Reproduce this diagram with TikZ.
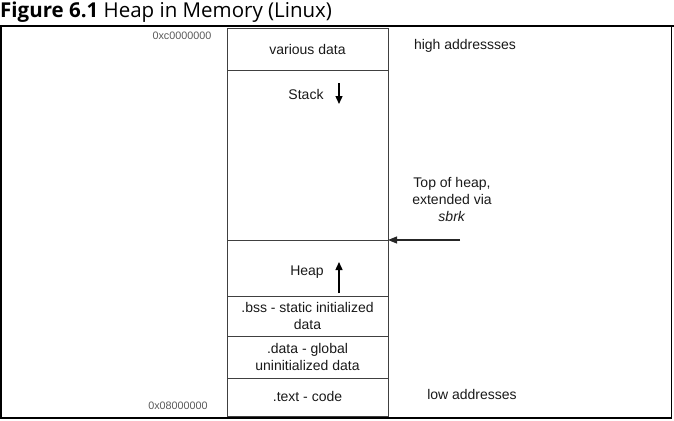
\documentclass[tikz,border=0pt]{standalone}
\usepackage{fontspec}
\setmainfont{Liberation Sans}
\newfontfamily\titlefont{Open Sans}
\usetikzlibrary{arrows.meta}
\begin{document}
\begin{tikzpicture}[x=1pt,y=-1pt,
  region/.style={draw=black!75, line width=0.9pt, minimum width=161pt, inner sep=0pt, outer sep=0pt, anchor=north west},
  lbl/.style={font=\fontsize{14}{16.5}\selectfont, text=black!90, align=center, inner sep=0pt},
  hexlbl/.style={font=\fontsize{10.8}{12}\selectfont, text=black!65, inner sep=0pt},
  growarrow/.style={line width=1.4pt, -{Triangle[length=8pt,width=7pt]}},
  ptr/.style={line width=1.1pt, black!85, -{Triangle[length=9pt,width=7pt]}}]
\useasboundingbox (0,0) rectangle (674,420);
% title
\node[anchor=base west, inner sep=0pt, font=\titlefont\fontsize{20.5}{23}\selectfont] (title) at (0,17.5) {\textbf{Figure 6.1} Heap in Memory (Linux)};
% frame
\draw[line width=1.8pt] (0,26) -- (674,26);
\draw[line width=1.6pt] (1,26) rectangle (671.5,418);
% column regions
\node[region, minimum height=42pt] (various) at (227,28) {};
\node[region, minimum height=170pt] (stack) at (227,70) {};
\node[region, minimum height=56pt] (heap) at (227,240) {};
\node[region, minimum height=40pt] (bss) at (227,296) {};
\node[region, minimum height=42pt] (data) at (227,336) {};
\node[region, minimum height=38pt] (text) at (227,378) {};
% labels
\node[lbl] (variousl) at (various.center) {various data};
\node[lbl] (stackl) at (306,94) {Stack};
\node[lbl] (heapl) at (307,272) {Heap};
\node[lbl] (bssl) at (bss.center) {.bss - static initialized\\data};
\node[lbl] (datal) at (data.center) {.data - global\\uninitialized data};
\node[lbl] (textl) at ([yshift=1pt]text.center) {.text - code};
\node[lbl] (high) at (465,46) {high addressses};
\node[lbl] (low) at (472,394) {low addresses};
\node[lbl, font=\fontsize{14}{17}\selectfont] (top) at (452,199) {Top of heap,\\extended via\\\textit{sbrk}};
\node[hexlbl] (hexhi) at (182,36) {0xc0000000};
\node[hexlbl] (hexlo) at (178,406) {0x08000000};
% growth arrows
\coordinate (sa) at (339,83);
\coordinate (sb) at (339,104);
\draw[growarrow] (sa) -- (sb);
\coordinate (ha) at (339,293);
\coordinate (hb) at (339,262);
\draw[growarrow] (ha) -- (hb);
% heap top pointer
\coordinate (ptrstart) at (460,240);
\draw[ptr] (ptrstart) -- (stack.south east);
\end{tikzpicture}
\end{document}
